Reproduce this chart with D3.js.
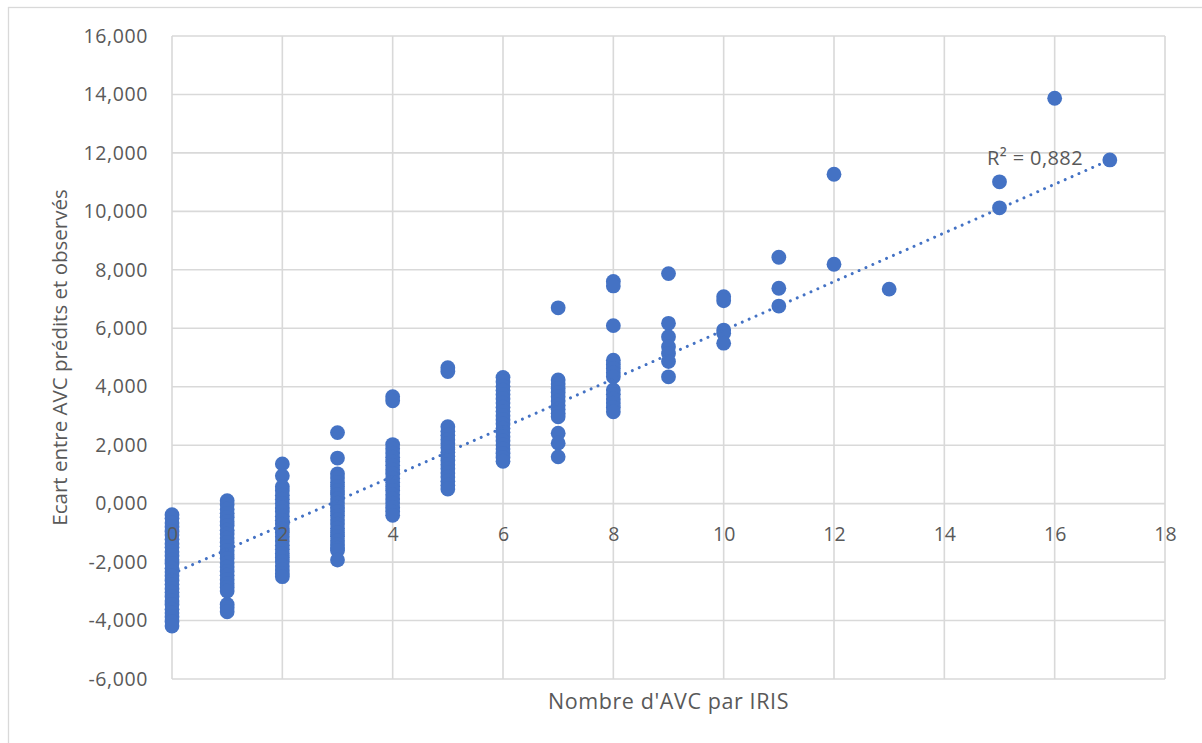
<!doctype html>
<html lang="fr">
<head>
<meta charset="utf-8">
<title>Ecart entre AVC prédits et observés</title>
<script src="https://cdn.jsdelivr.net/npm/d3@7"></script>
<style>
  html, body { margin: 0; padding: 0; background: #fff; }
  svg { display: block; }
  text { font-family: "Open Sans", "Noto Sans", sans-serif; fill: #595959; }
</style>
</head>
<body>
<svg id="chart" width="1202" height="743"></svg>
<script>
// nombre d'AVC par IRIS (x) and the ecarts read for each of them (y)
const nombreAvc = [0, 1, 2, 3, 4, 5, 6, 7, 8, 9, 10, 11, 12, 13, 15, 16, 17];
const ecarts = [
  [-0.38, -0.50, -0.66, -0.79, -0.95, -1.07, -1.22, -1.37, -1.49, -1.65, -1.78, -1.93, -2.05, -2.21, -2.34, -2.47, -2.63, -2.76, -2.91, -3.03, -3.18, -3.33, -3.45, -3.61, -3.74, -3.87, -4.03, -4.19],
  [0.10, -0.04, -0.19, -0.33, -0.47, -0.62, -0.75, -0.91, -1.04, -1.18, -1.33, -1.46, -1.61, -1.75, -1.88, -2.03, -2.17, -2.32, -2.45, -2.60, -2.74, -2.87, -2.99, -3.45, -3.56, -3.70],
  [1.36, 0.95, 0.58, 0.44, 0.29, 0.15, 0.01, -0.14, -0.28, -0.43, -0.57, -0.70, -0.86, -0.99, -1.13, -1.28, -1.42, -1.56, -1.71, -1.84, -1.98, -2.13, -2.27, -2.40, -2.50],
  [2.43, 1.56, 1.02, 0.88, 0.73, 0.59, 0.44, 0.31, 0.16, 0.02, -0.13, -0.27, -0.41, -0.56, -0.70, -0.84, -0.99, -1.12, -1.27, -1.41, -1.52, -1.60, -1.93],
  [3.66, 3.52, 2.02, 1.88, 1.73, 1.59, 1.44, 1.31, 1.16, 1.02, 0.87, 0.73, 0.59, 0.45, 0.30, 0.16, 0.02, -0.13, -0.27, -0.40],
  [4.65, 4.52, 2.63, 2.48, 2.34, 2.19, 2.05, 1.91, 1.76, 1.62, 1.48, 1.33, 1.19, 1.05, 0.91, 0.77, 0.63, 0.50],
  [4.32, 4.17, 4.02, 3.88, 3.73, 3.59, 3.44, 3.30, 3.16, 3.01, 2.87, 2.73, 2.58, 2.44, 2.29, 2.15, 2.01, 1.87, 1.72, 1.58, 1.45],
  [6.70, 4.23, 4.09, 3.94, 3.80, 3.66, 3.51, 3.37, 3.23, 3.09, 2.97, 2.41, 2.07, 1.60],
  [7.60, 7.45, 6.09, 4.91, 4.76, 4.62, 4.48, 4.34, 3.89, 3.74, 3.58, 3.44, 3.29, 3.14],
  [7.87, 6.17, 5.71, 5.37, 5.14, 4.86, 4.34],
  [7.08, 6.94, 5.94, 5.83, 5.49],
  [8.43, 7.37, 6.76],
  [11.27, 8.19],
  [7.34],
  [11.01, 10.12],
  [13.87],
  [11.76]
];

// linear trend line (Excel) and its R²
const trendIntercept = -2.40;
const trendSlope = 0.833;
const trendRange = [0, 17];
const rSquared = 0.882;

const xTicks = [0, 2, 4, 6, 8, 10, 12, 14, 16, 18];
const yTicks = [-6, -4, -2, 0, 2, 4, 6, 8, 10, 12, 14, 16];

const titreX = "Nombre d'AVC par IRIS";
const titreY = "Ecart entre AVC prédits et observés";

const points = [];
nombreAvc.forEach((n, i) => ecarts[i].forEach(e => points.push({ n: n, e: e })));

const svg = d3.select("#chart");
const margin = { left: 172, right: 37, top: 36, bottom: 64 };
const W = 1202, H = 743;

const x = d3.scaleLinear().domain([0, 18]).range([margin.left, W - margin.right]);
const y = d3.scaleLinear().domain([-6, 16]).range([H - margin.bottom, margin.top]);

const fr = d3.formatLocale({ decimal: ",", thousands: " ", grouping: [3], currency: ["", " €"], minus: "-" });
const fmtY = fr.format(".3f");

// chart frame
svg.append("rect")
  .attr("x", 8.5).attr("y", 7.5)
  .attr("width", W + 10).attr("height", H + 10)
  .attr("fill", "#fff").attr("stroke", "#d9d9d9").attr("stroke-width", 1.3);

// gridlines
const grid = svg.append("g").attr("stroke", "#d9d9d9").attr("stroke-width", 1.6);
grid.selectAll("line.h").data(yTicks).join("line")
  .attr("class", "h")
  .attr("x1", x(0)).attr("x2", x(18))
  .attr("y1", d => y(d)).attr("y2", d => y(d));
grid.selectAll("line.v").data(xTicks).join("line")
  .attr("class", "v")
  .attr("x1", d => x(d)).attr("x2", d => x(d))
  .attr("y1", y(-6)).attr("y2", y(16));

// y axis labels
const yAxis = d3.axisLeft(y).tickValues(yTicks).tickFormat(fmtY).tickSize(0).tickPadding(24);
svg.append("g").attr("transform", `translate(${x(0)},0)`).call(yAxis)
  .call(g => g.select(".domain").remove())
  .call(g => g.selectAll("text").attr("fill", "#595959")
    .style("font-size", "19.5px").style("letter-spacing", "0.6px").style("font-family", null));

// markers
svg.append("g").selectAll("circle").data(points).join("circle")
  .attr("cx", d => x(d.n)).attr("cy", d => y(d.e))
  .attr("r", 7.4)
  .attr("fill", "#4472c4");

// trend line
svg.append("line")
  .attr("x1", x(trendRange[0])).attr("y1", y(trendIntercept + trendSlope * trendRange[0]))
  .attr("x2", x(trendRange[1])).attr("y2", y(trendIntercept + trendSlope * trendRange[1]))
  .attr("stroke", "#4472c4").attr("stroke-width", 3)
  .attr("stroke-linecap", "round").attr("stroke-dasharray", "0.01 7.5");

// x axis labels, crossing at 0 (drawn on top of the markers like Excel)
const xAxis = d3.axisBottom(x).tickValues(xTicks).tickFormat(d3.format("d")).tickSize(0).tickPadding(24);
svg.append("g").attr("transform", `translate(0,${y(0)})`).call(xAxis)
  .call(g => g.select(".domain").remove())
  .call(g => g.selectAll("text").attr("fill", "#595959")
    .style("font-size", "19.5px").style("font-family", null));

// R² label
svg.append("text")
  .attr("x", 987).attr("y", 165)
  .style("font-size", "20px").style("letter-spacing", "0.4px")
  .text("R² = " + fr.format(".3f")(rSquared));

// axis titles
svg.append("text")
  .attr("x", (x(0) + x(18)) / 2).attr("y", 709)
  .attr("text-anchor", "middle")
  .style("font-size", "21.5px").style("letter-spacing", "0.6px")
  .text(titreX);

svg.append("text")
  .attr("transform", `translate(67,${(y(-6) + y(16)) / 2}) rotate(-90)`)
  .attr("text-anchor", "middle")
  .style("font-size", "20.5px")
  .text(titreY);
</script>
</body>
</html>
